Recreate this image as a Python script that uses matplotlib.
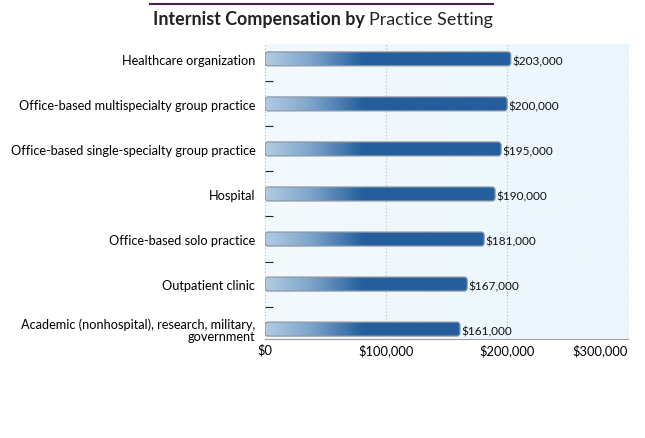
import numpy as np
import matplotlib.pyplot as plt
from matplotlib.colors import LinearSegmentedColormap
from matplotlib.patches import FancyBboxPatch
from matplotlib.lines import Line2D

plt.rcParams['font.family'] = ['Lato', 'DejaVu Sans']

settings = ["Healthcare organization",
            "Office-based multispecialty group practice",
            "Office-based single-specialty group practice",
            "Hospital",
            "Office-based solo practice",
            "Outpatient clinic",
            "Academic (nonhospital), research, military,\ngovernment"]
pay = [203000, 200000, 195000, 190000, 181000, 167000, 161000]
xticks = [0, 100000, 200000, 300000]
xticklabels = ["$0", "$100,000", "$200,000", "$300,000"]

fig = plt.figure(figsize=(6.45, 4.39), dpi=100)
ax = fig.add_axes([0.411, 0.2255, 0.563, 0.672])

ypos = np.arange(len(settings))
ax.set_xlim(0, 300000)
ax.set_ylim(len(settings) - 1 + 0.22, -0.33)

# background gradient
bg = LinearSegmentedColormap.from_list("bg", ["#f4f9fc", "#eaf6fc"])
ax.imshow(np.linspace(0, 1, 256).reshape(1, -1), cmap=bg, aspect="auto",
          extent=[0, 300000, len(settings) - 1 + 0.22, -0.33], zorder=0)

ax.grid(axis="x", color="#bdbdbd", linestyle=(0, (1, 2)), linewidth=0.8, zorder=1)

barcm = LinearSegmentedColormap.from_list("bar", [(0, "#b3cbe2"), (0.12, "#7fa6cc"),
                                                    (0.27, "#245e9c"), (1, "#245e9c")])
grad = np.linspace(0, 1, 512).reshape(1, -1)
h = 0.31
for y, v in zip(ypos, pay):
    patch = FancyBboxPatch((0, y - h / 2), v, h,
                           boxstyle="round,pad=0,rounding_size=2500",
                           mutation_aspect=h / 2500 * 0.25,
                           facecolor="none", edgecolor="#8c98a6", linewidth=0.9, zorder=3)
    ax.add_patch(patch)
    im = ax.imshow(grad, cmap=barcm, aspect="auto",
                   extent=[0, 300000, y + h / 2, y - h / 2], zorder=2)
    im.set_clip_path(patch)
    ax.text(v + 1200, y + 0.05, "${:,}".format(v), fontsize=8.5, va="center",
            ha="left", color="#111111", zorder=4)

ax.set_yticks(ypos)
ax.set_yticklabels(settings, fontsize=9.2, linespacing=0.95)
ax.set_yticks(ypos[:-1] + 0.5, minor=True)
ax.tick_params(axis="y", which="major", length=0, pad=7)
ax.tick_params(axis="y", which="minor", direction="in", length=6, width=0.8, color="#222222")

ax.set_xticks(xticks)
ax.set_xticklabels(xticklabels, fontsize=9.3)
ax.tick_params(axis="x", length=0, pad=3)
for lab in ax.get_xticklabels():
    if lab.get_text() == "$300,000":
        lab.set_horizontalalignment("right")

for s in ["top", "right", "left"]:
    ax.spines[s].set_visible(False)
ax.spines["bottom"].set_color("#a0a0a0")

fig.add_artist(Line2D([150 / 645, 493 / 645], [1 - 5 / 439, 1 - 5 / 439],
                      color="#4b1e55", linewidth=1.5))
split = 369 / 645
fig.text(split, 1 - 20 / 439, "Internist Compensation by ", fontsize=12.9,
         fontweight="bold", ha="right", va="center", color="#222222")
fig.text(split, 1 - 20 / 439, "Practice Setting", fontsize=12.9, ha="left",
         va="center", color="#222222")

fig.savefig("out.png", dpi=100)
